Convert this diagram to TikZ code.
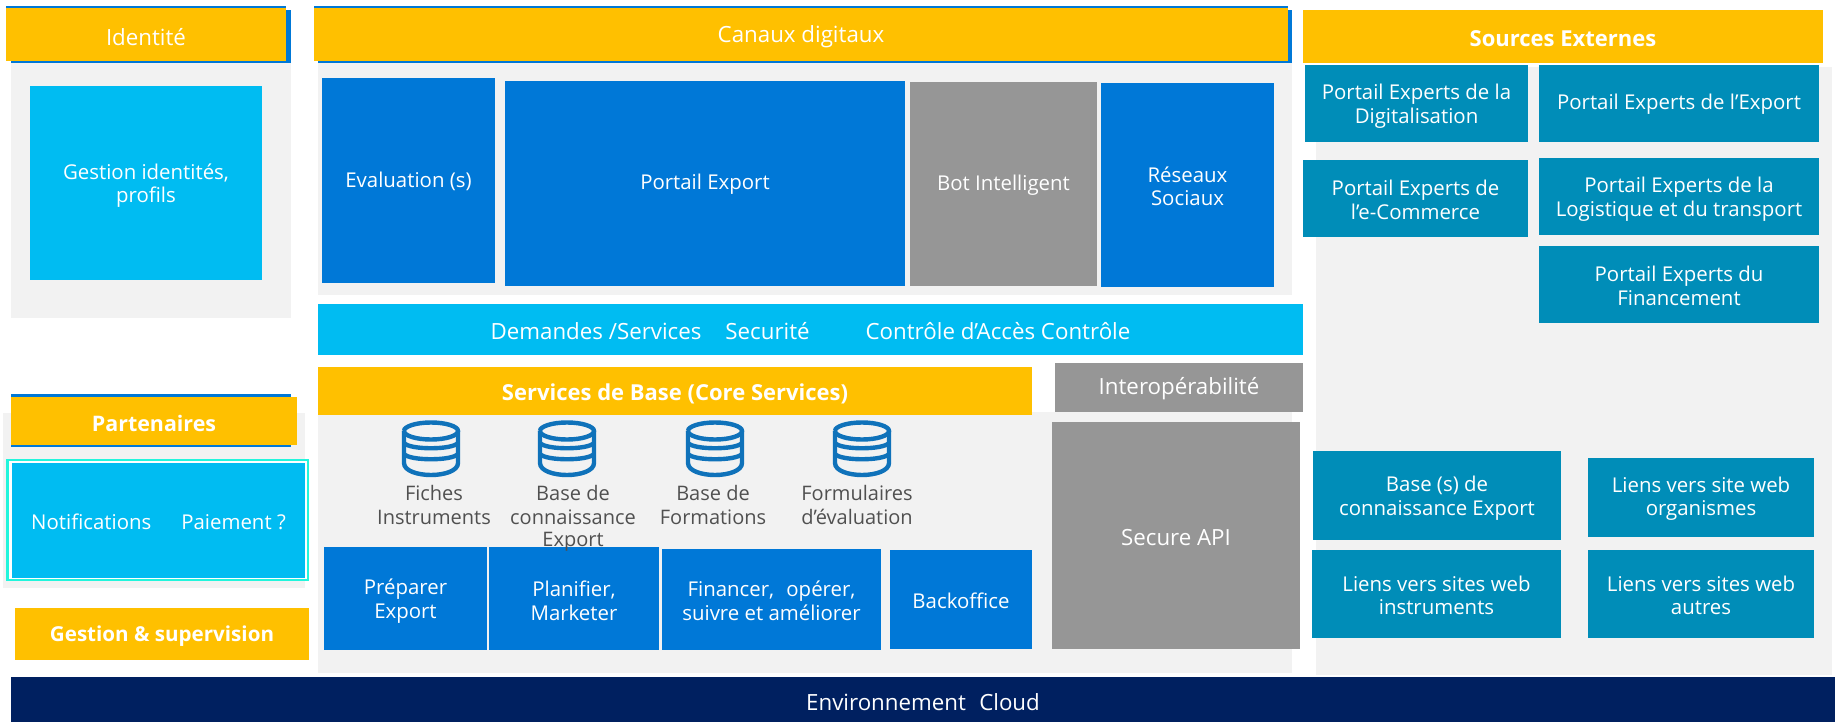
\documentclass[tikz,border=0pt]{standalone}
\usepackage{fontspec}
\setmainfont{Open Sans}
\definecolor{cOrange}{HTML}{FFC000}
\definecolor{cBlue}{HTML}{0078D7}
\definecolor{cCyan}{HTML}{00BCF2}
\definecolor{cPanel}{HTML}{F2F2F2}
\definecolor{cGray}{HTML}{969696}
\definecolor{cTeal}{HTML}{008DB8}
\definecolor{cNavy}{HTML}{002060}
\definecolor{cAqua}{HTML}{22F5DC}
\definecolor{cText}{HTML}{505050}
\definecolor{cIcon}{HTML}{0F72BA}
\newcommand{\bx}[7]{%
  \pgfmathsetmacro{\bxcx}{(#3+#5)/2}%
  \pgfmathsetmacro{\bxcy}{(#4+#6)/2}%
  \pgfmathsetmacro{\bxw}{#5-#3}%
  \pgfmathsetmacro{\bxh}{#6-#4}%
  \node[boxbase,#2,minimum width=\bxw pt,minimum height=\bxh pt] (#1) at (\bxcx,\bxcy) {};%
  \if\relax\detokenize{#7}\relax\else
    \node[lowertext/.style={yshift=-1.3pt},boxbase,#2,fill=none,yshift=-1.2pt] (#1-text) at (#1.center) {#7};%
  \fi
}
\newcommand{\dbicon}[2]{%
  \begin{scope}[shift={(#1,#2)},draw=cIcon,line width=4.4pt]
    \draw (-27,10) arc[start angle=180,end angle=-180,x radius=27,y radius=8.5];
    \draw (-27,10) -- (-27,42) .. controls (-27,50) and (-13,54) .. (0,54) .. controls (13,54) and (27,50) .. (27,42) -- (27,10);
    \draw (-27,22) .. controls (-21,29) and (21,29) .. (27,22);
    \draw (-27,33) .. controls (-21,40) and (21,40) .. (27,33);
  \end{scope}%
}
\tikzset{
  lowertext/.style={},
  boxbase/.style={inner sep=0pt,outer sep=0pt,align=center,text=white,font=\fontsize{20.4}{23.5}\selectfont},
  bigtext/.style={lowertext,font=\fontsize{22.3}{26}\selectfont},
  strongtext/.style={lowertext,font=\fontsize{22}{26}\selectfont\bfseries},
  strongsmall/.style={lowertext,font=\fontsize{20.6}{24}\selectfont\bfseries},
  strongmid/.style={lowertext,font=\fontsize{21.4}{25}\selectfont\bfseries},
  flatbig/.style={font=\fontsize{22.3}{26}\selectfont},
  panel/.style={fill=cPanel},
  band/.style={fill=cOrange},
  blueback/.style={fill=cBlue},
  bluebox/.style={fill=cBlue},
  cyanbox/.style={fill=cCyan},
  graybox/.style={fill=cGray},
  tealbox/.style={fill=cTeal},
  navybox/.style={fill=cNavy},
  dblabel/.style={inner sep=0pt,align=center,text=cText,anchor=north,font=\fontsize{20}{24}\selectfont}
}
\begin{document}
\begin{tikzpicture}[x=1pt,y=-1pt]
\useasboundingbox (0,0) rectangle (1835,722);
% panels
\bx{pIdent}{panel}{11}{63}{291}{318}{}
\bx{pCanaux}{panel}{318}{63}{1292}{295}{}
\bx{pCore}{panel}{318}{412}{1292}{673}{}
\bx{pPart}{panel}{3}{413}{305}{588}{}
\bx{pExt}{panel}{1316}{67}{1832}{675}{}
% Identité
\bx{bIdentA}{blueback}{6}{6}{286}{12}{}
\bx{bIdentB}{blueback}{11}{10}{291}{63}{}
\bx{identite}{band,bigtext}{6}{8}{286}{61}{Identité}
\bx{gestionId}{cyanbox,lowertext}{30}{86}{262}{280}{Gestion identités,\\profils}
% Canaux
\bx{bCanA}{blueback}{314}{6}{1288}{12}{}
\bx{bCanB}{blueback}{318}{10}{1292}{63}{}
\bx{canaux}{band,bigtext}{314}{8}{1288}{61}{Canaux digitaux}
\bx{evaluation}{bluebox}{322}{78}{495}{283}{Evaluation (s)}
\bx{portail}{bluebox}{505}{81}{905}{286}{Portail Export}
\bx{bot}{graybox}{910}{82}{1097}{286}{Bot Intelligent}
\bx{reseaux}{bluebox}{1101}{83}{1274}{287}{Réseaux\\Sociaux}
\bx{demandes}{cyanbox,flatbig}{318}{304}{1303}{355}{Demandes /Services\hspace{24pt}Securité\hspace{56pt}Contrôle d’Accès Contrôle}
% Core
\bx{services}{band,strongtext}{318}{367}{1032}{415}{Services de Base (Core Services)}
\bx{interop}{graybox,flatbig}{1055}{363}{1303}{412}{Interopérabilité}
\bx{secure}{graybox,bigtext}{1052}{422}{1300}{649}{Secure API}
\bx{preparer}{bluebox,lowertext}{324}{547}{487}{650}{Préparer\\Export}
\bx{planifier}{bluebox,lowertext}{489}{547}{659}{650}{Planifier,\\Marketer}
\bx{financer}{bluebox}{662}{549}{881}{650}{Financer,\hspace{0.6em}opérer,\\suivre et améliorer}
\bx{backoffice}{bluebox}{890}{550}{1032}{649}{Backoffice}
\dbicon{431}{421}
\dbicon{567}{421}
\dbicon{715}{421}
\dbicon{862}{421}
\node[dblabel] (fiches) at (434,485.5) {Fiches\\Instruments};
\node[dblabel] (connaissance) at (573,485.5) {Base de\\connaissance\\[-2pt]Export};
\node[dblabel] (formations) at (713,485.5) {Base de\\Formations};
\node[dblabel] (formulaires) at (857,485.5) {Formulaires\\d’évaluation};
% Partenaires
\bx{bPartA}{blueback}{11}{394}{291}{447}{}
\bx{partenaires}{band,strongmid}{11}{397}{297}{445}{Partenaires}
\bx{notifOuter}{fill=cAqua}{6}{459}{309}{581}{}
\bx{notifWhite}{fill=white}{9}{461}{307}{579}{}
\bx{notif}{cyanbox}{12}{463}{305}{578}{Notifications\hspace{30pt}Paiement ?}
\bx{gestion}{band,strongsmall}{15}{608}{309}{660}{Gestion \& supervision}
% Sources externes
\bx{sources}{band,strongtext}{1303}{10}{1823}{63}{Sources Externes}
\bx{eDigit}{tealbox,lowertext}{1305}{65}{1528}{142}{Portail Experts de la\\Digitalisation}
\bx{eExport}{tealbox}{1539}{65}{1819}{142}{Portail Experts de l’Export}
\bx{eCommerce}{tealbox}{1303}{160}{1528}{237}{Portail Experts de\\l’e-Commerce}
\bx{eLogist}{tealbox,lowertext}{1539}{158}{1819}{235}{Portail Experts de la\\Logistique et du transport}
\bx{eFinance}{tealbox}{1539}{246}{1819}{323}{Portail Experts du\\Financement}
\bx{baseCo}{tealbox,lowertext}{1313}{451}{1561}{540}{Base (s) de\\connaissance Export}
\bx{liensOrg}{tealbox}{1588}{458}{1814}{537}{Liens vers site web\\organismes}
\bx{liensInst}{tealbox}{1312}{550}{1561}{638}{Liens vers sites web\\instruments}
\bx{liensAut}{tealbox}{1588}{550}{1814}{638}{Liens vers sites web\\autres}
% Cloud
\bx{cloud}{navybox,bigtext}{11}{677}{1835}{722}{Environnement\hspace{0.6em}Cloud}
\end{tikzpicture}
\end{document}
